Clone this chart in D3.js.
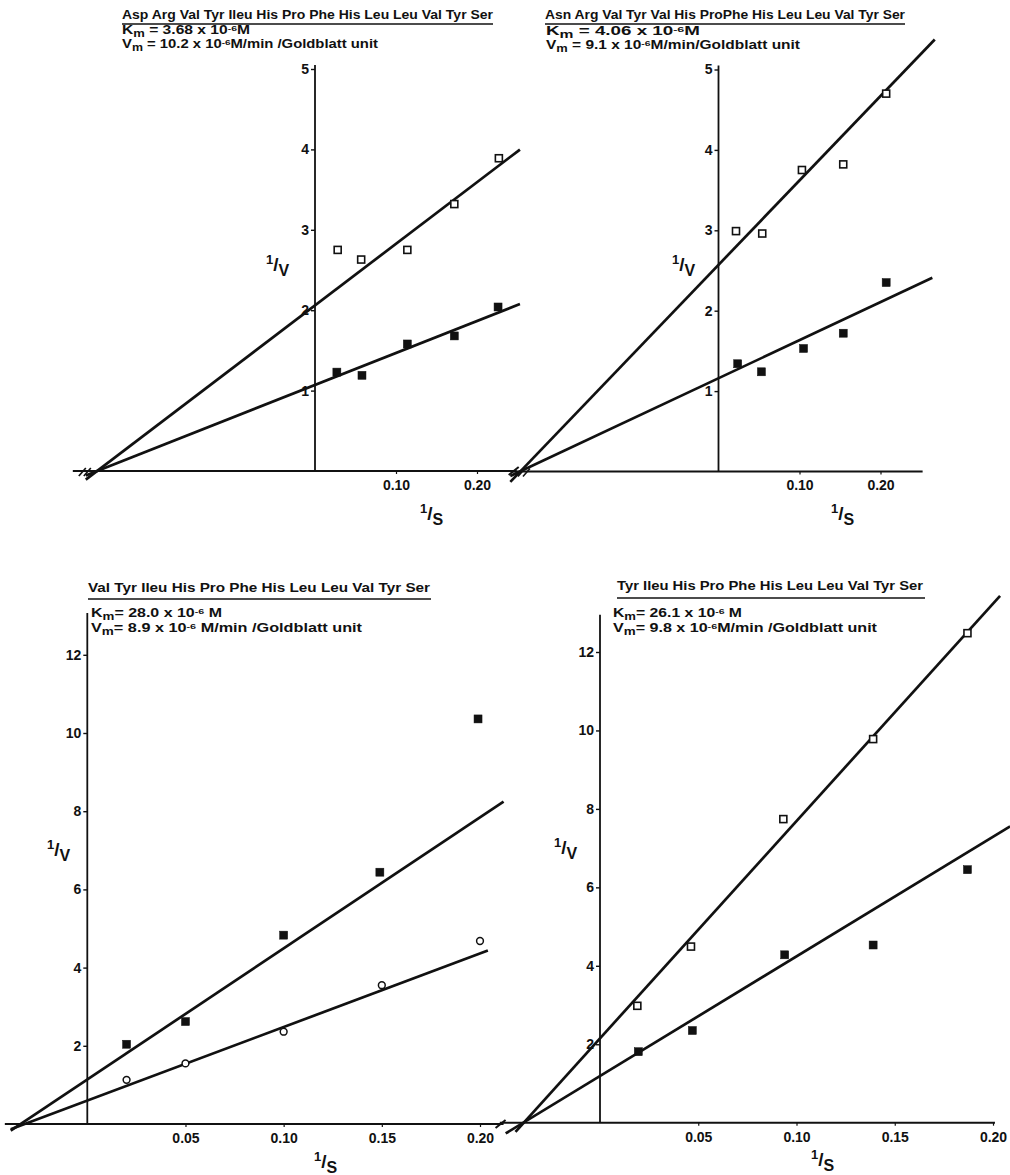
<!DOCTYPE html>
<html>
<head>
<meta charset="utf-8">
<script src="https://cdn.jsdelivr.net/npm/d3@7"></script>
<style>
  body { margin: 0; background: #fff; }
  svg { display: block; }
  text { font-family: "Liberation Sans", Arial, sans-serif; font-weight: bold; fill: #111; }
</style>
</head>
<body>
<div id="chart"></div>
<script>
// values, [1/S, 1/V]
const aspOpen = [[0.028, 2.75], [0.057, 2.63], [0.114, 2.75], [0.172, 3.32], [0.227, 3.89]];
const aspFilled = [[0.027, 1.23], [0.058, 1.19], [0.114, 1.58], [0.172, 1.68], [0.226, 2.04]];
const aspLines = [{b: 2.06, m: 7.66, x0: -0.283, x1: 0.253}, {b: 1.07, m: 3.98, x0: -0.283, x1: 0.253}];

const asnOpen = [[0.0216, 2.99], [0.054, 2.96], [0.103, 3.75], [0.154, 3.82], [0.207, 4.70]];
const asnFilled = [[0.0237, 1.34], [0.053, 1.24], [0.105, 1.53], [0.154, 1.72], [0.207, 2.35]];
const asnLines = [{b: 2.57, m: 10.5, x0: -0.257, x1: 0.267}, {b: 1.16, m: 4.73, x0: -0.257, x1: 0.264}];

const valFilled = [[0.020, 2.04], [0.050, 2.62], [0.100, 4.83], [0.149, 6.44], [0.199, 10.36]];
const valCircle = [[0.020, 1.13], [0.050, 1.55], [0.100, 2.36], [0.150, 3.55], [0.200, 4.68]];
const valLines = [{b: 1.14, m: 33.5, x0: -0.039, x1: 0.212}, {b: 0.60, m: 18.8, x0: -0.039, x1: 0.204}];

const tyrOpen = [[0.019, 2.98], [0.0463, 4.49], [0.0933, 7.74], [0.139, 9.78], [0.187, 12.48]];
const tyrFilled = [[0.0195, 1.81], [0.047, 2.35], [0.094, 4.28], [0.139, 4.53], [0.187, 6.45]];
const tyrLines = [{b: 2.15, m: 55.4, x0: -0.043, x1: 0.2036}, {b: 1.19, m: 30.5, x0: -0.048, x1: 0.2087}];

const yTicksTop = [1, 2, 3, 4, 5];
const xTicksTop = [0.10, 0.20];
const yTicksBottom = [2, 4, 6, 8, 10, 12];
const xTicksBottom = [0.05, 0.10, 0.15, 0.20];

const titles = [
    "Asp Arg Val Tyr Ileu His Pro Phe His Leu Leu Val Tyr Ser",
    "Asn Arg Val Tyr Val His ProPhe His Leu Leu Val Tyr Ser",
    "Val Tyr Ileu His Pro Phe His Leu Leu Val Tyr Ser",
    "Tyr Ileu His Pro Phe His Leu Leu Val Tyr Ser"
];
const kmTexts = [
    [["K"], ["m", "sub"], [" = 3.68 x 10"], ["-6", "sup"], ["M"]],
    [["K"], ["m", "sub"], [" = 4.06 x 10"], ["-6", "sup"], ["M"]],
    [["K"], ["m", "sub"], ["= 28.0 x 10"], ["-6", "sup"], [" M"]],
    [["K"], ["m", "sub"], ["= 26.1 x 10"], ["-6", "sup"], [" M"]]
];
const vmTexts = [
    [["V"], ["m", "sub"], [" = 10.2 x 10"], ["-6", "sup"], ["M/min /Goldblatt unit"]],
    [["V"], ["m", "sub"], [" = 9.1 x 10"], ["-6", "sup"], ["M/min/Goldblatt unit"]],
    [["V"], ["m", "sub"], ["= 8.9 x 10"], ["-6", "sup"], [" M/min /Goldblatt unit"]],
    [["V"], ["m", "sub"], ["= 9.8 x 10"], ["-6", "sup"], ["M/min /Goldblatt unit"]]
];

// page layout of each panel
const panels = [
    {
        xr: [315, 477], yd: 5, yr: [471, 69], xAxis: [-0.299, 0.249], yTop: 5.05,
        xTicks: xTicksTop, yTicks: yTicksTop, lines: aspLines,
        series: [{pts: aspOpen, mark: "open"}, {pts: aspFilled, mark: "filled"}],
        title: {x: 122, y: 19, len: 371, end: 493, line: 24},
        km: {x: 122, y: 34, len: 128}, vm: {x: 122, y: 48, len: 256},
        yLab: [266, 271], xLab: [420, 520], breakL: true, breakR: true
    },
    {
        xr: [718.5, 880.5], yd: 5, yr: [471.5, 69.5], xAxis: [-0.255, 0.252], yTop: 5.05,
        xTicks: xTicksTop, yTicks: yTicksTop, lines: asnLines,
        series: [{pts: asnOpen, mark: "open"}, {pts: asnFilled, mark: "filled"}],
        title: {x: 545, y: 19, len: 360, end: 905, line: 24},
        km: {x: 546, y: 35, len: 154}, vm: {x: 546, y: 49, len: 254},
        yLab: [672, 271], xLab: [831, 520], breakL: true, breakR: false
    },
    {
        xr: [87.3, 480], yd: 12, yr: [1124, 654.8], xAxis: [-0.042, 0.212], yTop: 13.07,
        xTicks: xTicksBottom, yTicks: yTicksBottom, lines: valLines,
        series: [{pts: valFilled, mark: "filled"}, {pts: valCircle, mark: "circle"}],
        title: {x: 88, y: 592, len: 342, end: 431, line: 599},
        km: {x: 91, y: 617, len: 131}, vm: {x: 91, y: 632, len: 271},
        yLab: [47, 856], xLab: [314, 1168], breakL: false, breakR: true
    },
    {
        xr: [600, 993], yd: 12, yr: [1122.7, 652], xAxis: [-0.051, 0.201], yTop: 12.95,
        xTicks: xTicksBottom, yTicks: yTicksBottom, lines: tyrLines,
        series: [{pts: tyrOpen, mark: "open"}, {pts: tyrFilled, mark: "filled"}],
        title: {x: 617, y: 590, len: 306, end: 925, line: 598},
        km: {x: 613, y: 617, len: 129}, vm: {x: 613, y: 632, len: 264},
        yLab: [554, 854], xLab: [811, 1166], breakL: false, breakR: false
    }
];

const svg = d3.select("#chart").append("svg")
    .attr("width", 1010)
    .attr("height", 1175);

function richText(g, x, y, parts, size, len) {
    const t = g.append("text")
        .attr("x", x).attr("y", y)
        .style("font-size", size + "px")
        .attr("textLength", len)
        .attr("lengthAdjust", "spacingAndGlyphs");
    parts.forEach(p => {
        const s = t.append("tspan").text(p[0]);
        if (p[1] === "sub") s.attr("baseline-shift", -2.5).style("font-size", (size - 2) + "px");
        if (p[1] === "sup") s.attr("baseline-shift", 3).style("font-size", (size - 4) + "px");
    });
    return t;
}

function fraction(g, x, y, top, bottom) {
    const t = g.append("text").attr("x", x).attr("y", y);
    t.append("tspan").text(top).attr("baseline-shift", 7).style("font-size", "13px");
    t.append("tspan").text("/").style("font-size", "19px");
    t.append("tspan").text(bottom).attr("baseline-shift", -5).style("font-size", "16px");
}

panels.forEach((p, i) => {
    const x = d3.scaleLinear().domain([0, 0.2]).range(p.xr);
    const y = d3.scaleLinear().domain([0, p.yd]).range(p.yr);
    const g = svg.append("g");

    // title, underline and constants
    g.append("text")
        .attr("x", p.title.x).attr("y", p.title.y)
        .style("font-size", "13px")
        .attr("textLength", p.title.len)
        .attr("lengthAdjust", "spacingAndGlyphs")
        .text(titles[i]);
    g.append("line")
        .attr("x1", p.title.x).attr("x2", p.title.end)
        .attr("y1", p.title.line).attr("y2", p.title.line)
        .attr("stroke", "#111").attr("stroke-width", 1.6);
    richText(g, p.km.x, p.km.y, kmTexts[i], 12, p.km.len);
    richText(g, p.vm.x, p.vm.y, vmTexts[i], 12, p.vm.len);

    // axes
    g.append("line")
        .attr("x1", x(p.xAxis[0])).attr("x2", x(p.xAxis[1]))
        .attr("y1", y(0)).attr("y2", y(0))
        .attr("stroke", "#111").attr("stroke-width", 2);
    g.append("line")
        .attr("x1", x(0)).attr("x2", x(0))
        .attr("y1", y(0)).attr("y2", y(p.yTop))
        .attr("stroke", "#111").attr("stroke-width", 1.8);

    const yAxis = g.append("g")
        .attr("transform", `translate(${x(0)},0)`)
        .call(d3.axisLeft(y).tickValues(p.yTicks).tickSize(4).tickPadding(2).tickFormat(d3.format("d")));
    yAxis.attr("font-size", null).attr("font-family", null);
    yAxis.select(".domain").remove();
    yAxis.selectAll("line").attr("stroke", "#111").attr("stroke-width", 1.4);
    yAxis.selectAll("text").style("font-size", "14px").attr("fill", "#111");

    const xAxis = g.append("g")
        .attr("transform", `translate(0,${y(0)})`)
        .call(d3.axisBottom(x).tickValues(p.xTicks).tickSize(3).tickPadding(6).tickFormat(d3.format(".2f")));
    xAxis.attr("font-size", null).attr("font-family", null);
    xAxis.select(".domain").remove();
    xAxis.selectAll("line").attr("stroke", "#111").attr("stroke-width", 1.2);
    xAxis.selectAll("text").style("font-size", "14px").attr("fill", "#111");

    // axis break marks
    if (p.breakL) {
        const bx = x(p.xAxis[0]) + 10, by = y(0);
        [0, 5].forEach(o => g.append("line")
            .attr("x1", bx + o - 4).attr("y1", by + 5)
            .attr("x2", bx + o + 3).attr("y2", by - 3)
            .attr("stroke", "#111").attr("stroke-width", 1.6));
    }
    if (p.breakR) {
        const bx = x(p.xAxis[1]), by = y(0);
        g.append("line")
            .attr("x1", bx - 8).attr("y1", by + 4)
            .attr("x2", bx + 2).attr("y2", by - 4)
            .attr("stroke", "#111").attr("stroke-width", 2);
    }

    // labels
    fraction(g, p.yLab[0], p.yLab[1], "1", "V");
    fraction(g, p.xLab[0], p.xLab[1], "1", "S");

    // fitted lines
    g.selectAll("path.fit")
        .data(p.lines)
        .join("path")
        .attr("class", "fit")
        .attr("d", l => d3.line()([[x(l.x0), y(l.b + l.m * l.x0)], [x(l.x1), y(l.b + l.m * l.x1)]]))
        .attr("stroke", "#111")
        .attr("stroke-width", 2.7)
        .attr("fill", "none");

    // data points
    p.series.forEach(s => {
        if (s.mark === "circle") {
            g.selectAll(null).data(s.pts).join("circle")
                .attr("cx", d => x(d[0])).attr("cy", d => y(d[1]))
                .attr("r", 3.4)
                .attr("fill", "#fff").attr("stroke", "#111").attr("stroke-width", 1.5);
        } else {
            const size = s.mark === "open" ? 7 : 8;
            g.selectAll(null).data(s.pts).join("rect")
                .attr("x", d => x(d[0]) - size / 2).attr("y", d => y(d[1]) - size / 2)
                .attr("width", size).attr("height", size)
                .attr("fill", s.mark === "open" ? "#fff" : "#111")
                .attr("stroke", "#111")
                .attr("stroke-width", s.mark === "open" ? 1.6 : 0.5);
        }
    });
});
</script>
</body>
</html>
